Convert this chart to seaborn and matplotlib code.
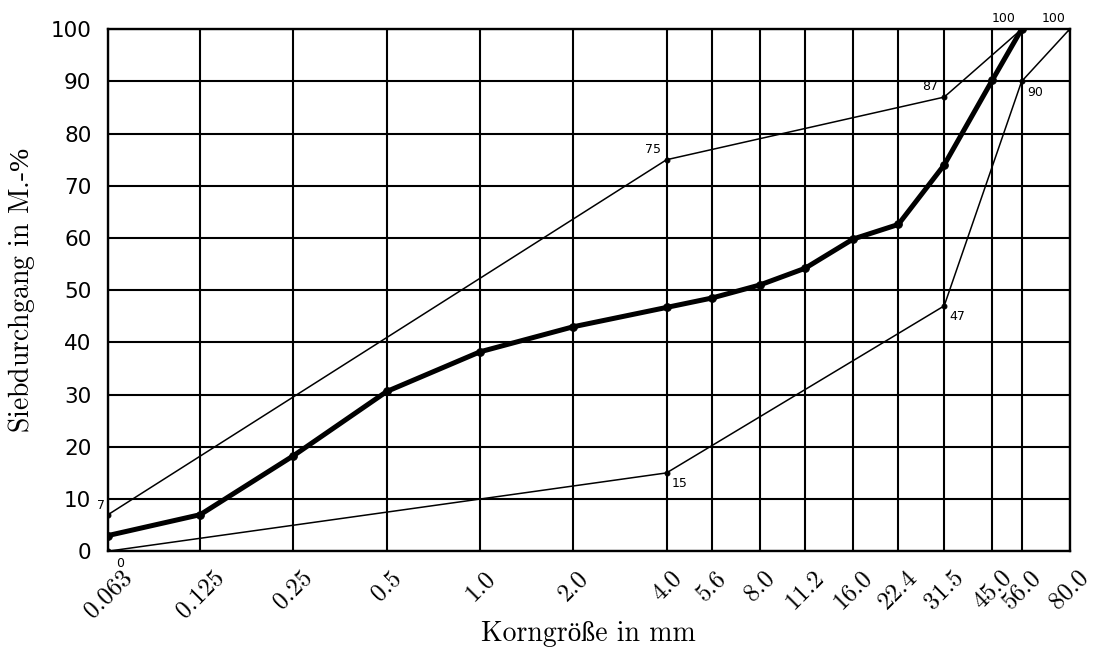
import numpy as np
import pandas as pd
import seaborn as sns
import matplotlib.pyplot as plt
from matplotlib.ticker import FixedLocator, NullLocator

sns.set_style("white")

# sieve sizes (mm) and labels
sieve = [0.063, 0.125, 0.25, 0.5, 1.0, 2.0, 4.0, 5.6, 8.0, 11.2, 16.0, 22.4, 31.5, 45.0, 56.0]
sieve_labels = ["0.063", "0.125", "0.25", "0.5", "1.0", "2.0", "4.0", "5.6", "8.0",
                "11.2", "16.0", "22.4", "31.5", "45.0", "56.0", "80.0"]
tick_pos = sieve + [80.0]

# measured grading curve
passing = [3, 7, 18.3, 30.6, 38.2, 43, 46.7, 48.5, 51, 54.2, 59.8, 62.6, 74, 90.2, 100]

# grading envelope
upper_x = [0.063, 4.0, 31.5, 56.0]
upper_y = [7, 75, 87, 100]
lower_x = [0.063, 4.0, 31.5, 56.0, 80.0]
lower_y = [0, 15, 47, 90, 100]

curve = pd.DataFrame({"d": sieve, "p": passing})
up = pd.DataFrame({"d": upper_x, "p": upper_y})
lo = pd.DataFrame({"d": lower_x, "p": lower_y})

serif = ["cmr10", "Liberation Serif"]
plt.rcParams["axes.formatter.use_mathtext"] = True
# percent sign from a regular serif font (cmr10's glyph sits too high)
plt.rcParams["mathtext.fontset"] = "custom"
plt.rcParams["mathtext.rm"] = "Liberation Serif"

fig, ax = plt.subplots(figsize=(10.97, 6.5), dpi=100)
fig.subplots_adjust(left=0.0985, right=0.975, top=0.955, bottom=0.152)

ax.set_xscale("log")
for df in (up, lo):
    sns.lineplot(data=df, x="d", y="p", ax=ax, color="black", lw=1.1, marker="o",
                 markersize=3.5, markeredgecolor="black", sort=False, zorder=3)
sns.lineplot(data=curve, x="d", y="p", ax=ax, color="black", lw=3.6, marker="o",
             markersize=5.5, markeredgecolor="black", sort=False, zorder=4)

ax.set_xlim(0.063, 80)
ax.set_ylim(0, 100)
ax.xaxis.set_major_locator(FixedLocator(tick_pos))
ax.xaxis.set_minor_locator(NullLocator())
ax.set_xticklabels(sieve_labels, rotation=45, ha="center", va="top",
                   family=serif, fontsize=18)
ax.set_yticks(range(0, 101, 10))
ax.set_yticklabels([str(v) for v in range(0, 101, 10)], fontsize=15.5, family="DejaVu Sans")
ax.tick_params(axis="y", length=0, pad=12, labelcolor="black")
ax.tick_params(axis="x", length=0, pad=11, labelcolor="black")

ax.grid(True, color="black", lw=1.5)
for s in ax.spines.values():
    s.set_color("black")
    s.set_linewidth(1.7)

ax.set_xlabel("Korngröße in mm", family=serif, fontsize=20, labelpad=-1, color="black")
ax.set_ylabel(r"Siebdurchgang in M.-$\mathrm{\%}$", family=serif, fontsize=20, labelpad=10,
              color="black")

# value labels at the envelope points
kw = dict(fontsize=9, family="DejaVu Sans", color="black", annotation_clip=False)
ax.annotate(str(lower_y[0]), (lower_x[0], lower_y[0]), xytext=(6, -4), textcoords="offset points",
            ha="left", va="top", **kw)
ax.annotate(str(upper_y[0]), (upper_x[0], upper_y[0]), xytext=(-2, 2), textcoords="offset points",
            ha="right", va="bottom", **kw)
for x, y in zip(upper_x[1:], upper_y[1:]):
    ax.annotate(str(y), (x, y), xytext=(-4, 3), textcoords="offset points",
                ha="right", va="bottom", **kw)
for x, y in zip(lower_x[1:-1], lower_y[1:-1]):
    ax.annotate(str(y), (x, y), xytext=(4, -3), textcoords="offset points",
                ha="left", va="top", **kw)
ax.annotate(str(lower_y[-1]), (lower_x[-1], lower_y[-1]), xytext=(-3, 3), textcoords="offset points",
            ha="right", va="bottom", **kw)

fig.savefig("out.png", dpi=100)
